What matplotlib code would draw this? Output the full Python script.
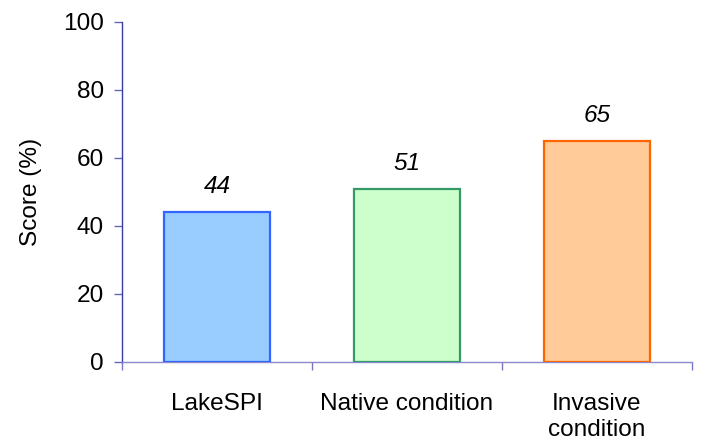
import matplotlib

matplotlib.use("Agg")
import matplotlib.pyplot as plt
import numpy as np

categories = ["LakeSPI", "Native condition", "Invasive\ncondition"]
scores = [44, 51, 65]
fill_colors = ["#99ccff", "#ccffcc", "#ffcc99"]
edge_colors = ["#3366ff", "#339966", "#ff6600"]
y_ticks = [0, 20, 40, 60, 80, 100]

plt.rcParams["font.family"] = ["Liberation Sans", "DejaVu Sans"]

fig = plt.figure(figsize=(7.2, 4.44), dpi=100)
ax = fig.add_axes([0.1694, 0.1847, 0.7916, 0.7658])

x = np.arange(len(categories))
ax.bar(x, scores, width=0.555, color=fill_colors, edgecolor=edge_colors, linewidth=1.6, zorder=3)

for xi, val in zip(x, scores):
    ax.annotate(
        f"{val}",
        (xi, val),
        xytext=(0, 10),
        textcoords="offset points",
        ha="center",
        va="bottom",
        fontsize=17.6,
        fontstyle="italic",
    )

ax.set_xlim(-0.5, len(categories) - 0.5)
ax.set_ylim(0, 100)
ax.set_yticks(y_ticks)
ax.tick_params(axis="y", labelsize=17.6, length=6, width=1, color="#6666bb", pad=7)

# category labels centred, ticks on the boundaries
ax.set_xticks(x)
ax.set_xticklabels(categories, fontsize=17.6, linespacing=1.25)
ax.tick_params(axis="x", which="major", length=0, pad=22)
ax.set_xticks(np.arange(len(categories) + 1) - 0.5, minor=True)
ax.tick_params(axis="x", which="minor", length=6, width=1, color="#7777c4")

for side in ["top", "right"]:
    ax.spines[side].set_visible(False)
ax.spines["left"].set_color("#3a3aa8")
ax.spines["left"].set_linewidth(1.0)
ax.spines["bottom"].set_color("#8888cc")
ax.spines["bottom"].set_linewidth(1.0)

ax.set_ylabel("Score (%)", fontsize=17.6, labelpad=15)

fig.savefig("out.png", dpi=100)
